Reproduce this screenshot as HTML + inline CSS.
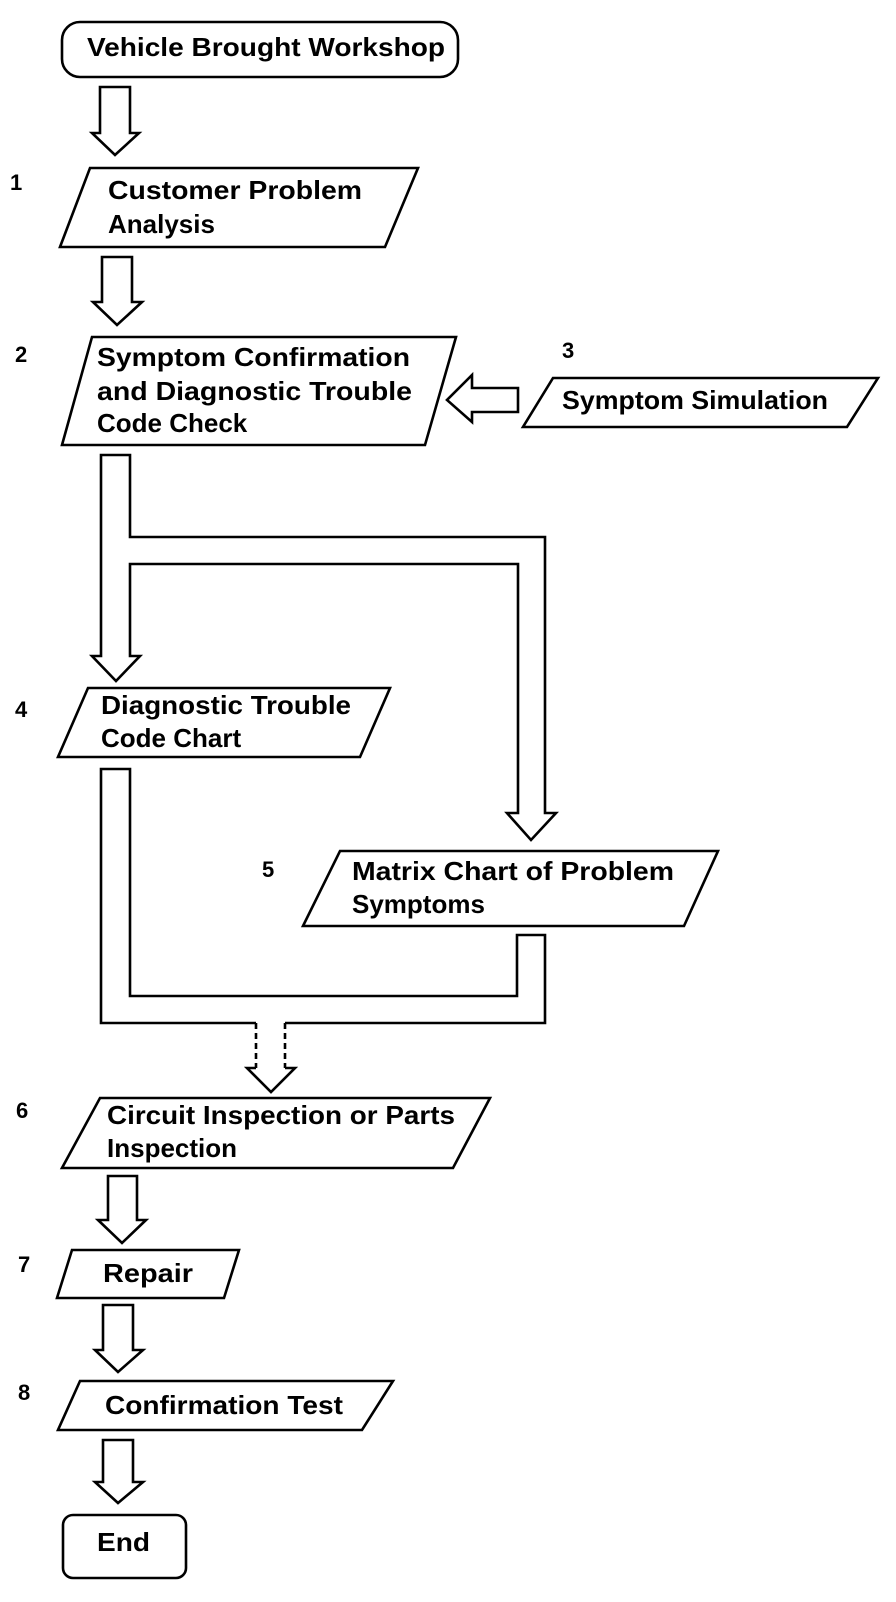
<!DOCTYPE html>
<html><head><meta charset="utf-8"><style>
html,body{margin:0;padding:0;background:#fff;}
svg{display:block;}
text{font-family:"Liberation Sans",Arial,sans-serif;font-weight:bold;font-size:26px;fill:#000;}
.n{font-size:22px;}
</style></head><body>
<svg width="896" height="1602" viewBox="0 0 896 1602" xmlns="http://www.w3.org/2000/svg">
<g fill="none" stroke="#000" stroke-width="2.6" stroke-linejoin="miter">
<!-- start -->
<rect x="62" y="22" width="396" height="55" rx="18"/>
<!-- arrows -->
<polygon points="100,87 130,87 130,133 139,133 115,155 92,133 100,133"/>
<polygon points="102,257 132,257 132,302 142,302 117,325 93,302 102,302"/>
<!-- box1 -->
<polygon points="90,168 418,168 385,247 60,247"/>
<!-- box2 -->
<polygon points="92,337 456,337 425,445 62,445"/>
<!-- sim box -->
<polygon points="553,378 878,378 847,427 523,427"/>
<!-- left arrow -->
<polygon points="518,388 518,412 472,412 472,422 447,400 472,375 472,388"/>
<!-- main connector -->
<polygon points="101,455 130,455 130,537 545,537 545,813 556,813 531,840 507,813 518,813 518,564 130,564 130,656 140,656 116,681 92,656 101,656"/>
<!-- box4 -->
<polygon points="88,688 390,688 360,757 58,757"/>
<!-- box5 -->
<polygon points="340,851 718,851 684,926 303,926"/>
<!-- lower connector -->
<polyline points="256,1023 101,1023 101,769 130,769 130,996 517,996 517,935 545,935 545,1023 285,1023"/>
<line x1="256" y1="1023" x2="256" y2="1068" stroke-dasharray="6,4"/>
<line x1="285" y1="1023" x2="285" y2="1068" stroke-dasharray="6,4"/>
<polyline points="256,1068 247,1068 271,1092 295,1068 285,1068"/>
<!-- box6 -->
<polygon points="100,1098 490,1098 453,1168 62,1168"/>
<polygon points="108,1176 137,1176 137,1220 146,1220 122,1243 98,1220 108,1220"/>
<!-- box7 -->
<polygon points="72,1250 239,1250 224,1298 57,1298"/>
<polygon points="103,1305 133,1305 133,1350 143,1350 118,1372 95,1350 103,1350"/>
<!-- box8 -->
<polygon points="80,1381 393,1381 362,1430 58,1430"/>
<polygon points="103,1440 133,1440 133,1482 143,1482 118,1503 95,1482 103,1482"/>
<!-- end -->
<rect x="63" y="1515" width="123" height="63" rx="10"/>
</g>
<text x="87" y="56" textLength="358" lengthAdjust="spacingAndGlyphs">Vehicle Brought Workshop</text>
<text class="n" x="10" y="190">1</text>
<text x="108" y="199" textLength="254" lengthAdjust="spacingAndGlyphs">Customer Problem</text>
<text x="108" y="233">Analysis</text>
<text class="n" x="15" y="362">2</text>
<text x="97" y="366" textLength="313" lengthAdjust="spacingAndGlyphs">Symptom Confirmation</text>
<text x="97" y="400" textLength="315" lengthAdjust="spacingAndGlyphs">and Diagnostic Trouble</text>
<text x="97" y="432">Code Check</text>
<text class="n" x="562" y="358">3</text>
<text x="562" y="409" textLength="266" lengthAdjust="spacingAndGlyphs">Symptom Simulation</text>
<text class="n" x="15" y="717">4</text>
<text x="101" y="714" textLength="250" lengthAdjust="spacingAndGlyphs">Diagnostic Trouble</text>
<text x="101" y="747">Code Chart</text>
<text class="n" x="262" y="877">5</text>
<text x="352" y="880" textLength="322" lengthAdjust="spacingAndGlyphs">Matrix Chart of Problem</text>
<text x="352" y="913">Symptoms</text>
<text class="n" x="16" y="1118">6</text>
<text x="107" y="1124" textLength="348" lengthAdjust="spacingAndGlyphs">Circuit Inspection or Parts</text>
<text x="107" y="1157">Inspection</text>
<text class="n" x="18" y="1272">7</text>
<text x="103" y="1282" textLength="90" lengthAdjust="spacingAndGlyphs">Repair</text>
<text class="n" x="18" y="1400">8</text>
<text x="105" y="1414" textLength="238" lengthAdjust="spacingAndGlyphs">Confirmation Test</text>
<text x="97" y="1551" textLength="53" lengthAdjust="spacingAndGlyphs">End</text>
</svg>
</body></html>
